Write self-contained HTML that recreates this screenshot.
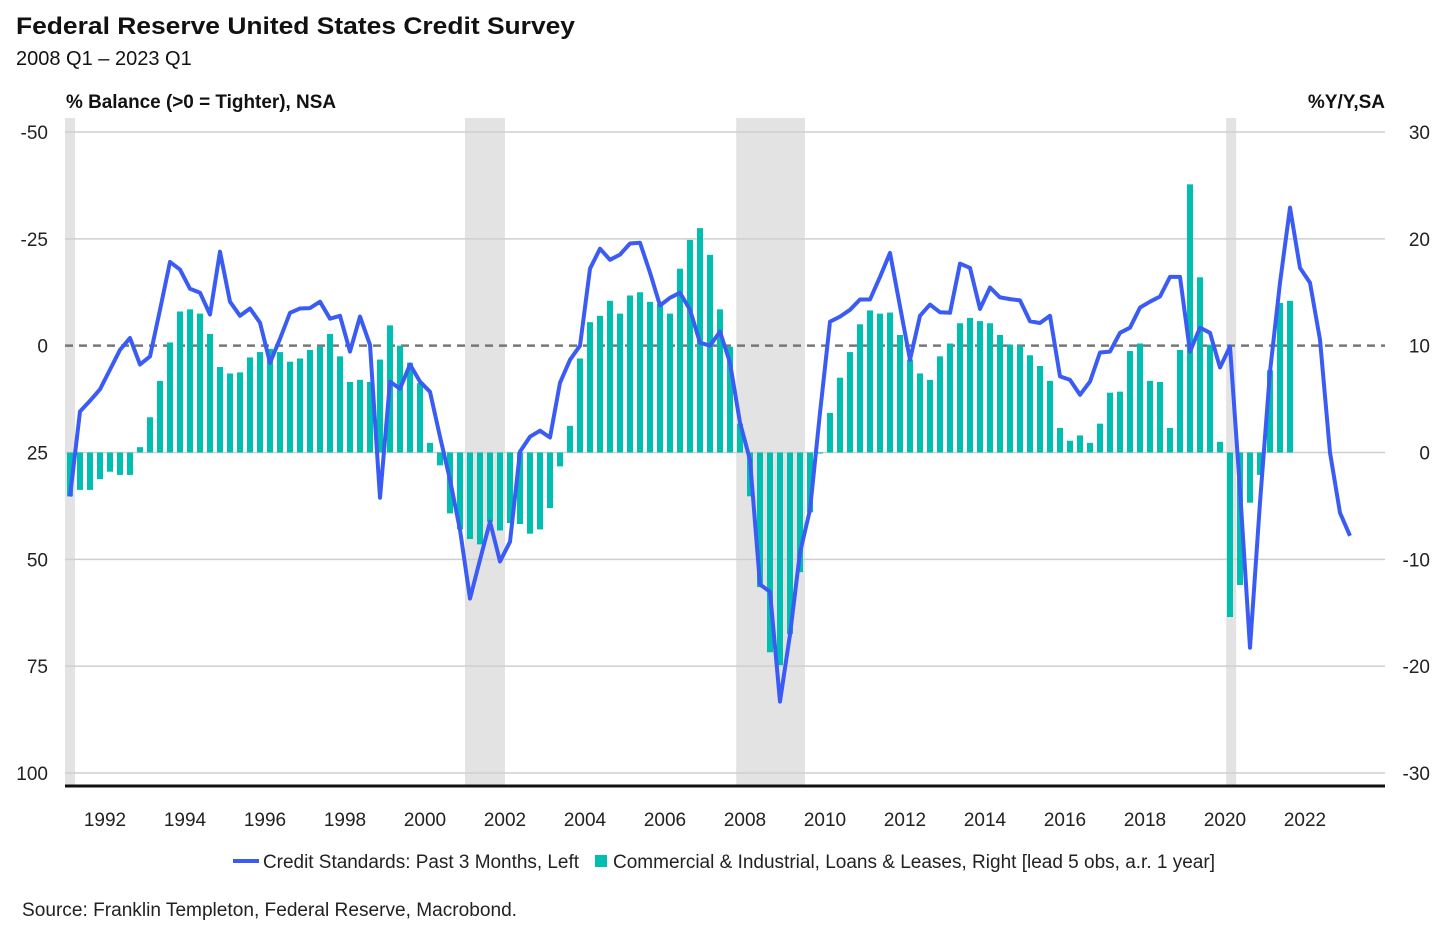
<!DOCTYPE html>
<html><head><meta charset="utf-8"><style>
body{margin:0;background:#fff;}
svg{display:block;font-family:"Liberation Sans",Arial,sans-serif;}
</style></head><body>
<svg id="chart" width="1449" height="929" viewBox="0 0 1449 929">
<text x="16" y="34" font-size="24" font-weight="bold" fill="#111" textLength="559" lengthAdjust="spacingAndGlyphs">Federal Reserve United States Credit Survey</text>
<text x="16" y="65" font-size="20" fill="#111">2008 Q1 – 2023 Q1</text>
<text x="66" y="108" font-size="19" font-weight="bold" fill="#111" textLength="270" lengthAdjust="spacingAndGlyphs">% Balance (&gt;0 = Tighter), NSA</text>
<text x="1385" y="108" font-size="19" font-weight="bold" fill="#111" text-anchor="end">%Y/Y,SA</text>
<g id="bands"></g><g id="grid"></g><g id="bars"></g><g id="line"></g><g id="axes"></g>
<g>
<line x1="233" y1="861" x2="259" y2="861" stroke="#3a5cf5" stroke-width="4"/>
<text x="263" y="868" font-size="19" fill="#222" textLength="316" lengthAdjust="spacingAndGlyphs">Credit Standards: Past 3 Months, Left</text>
<rect x="595" y="855" width="12" height="12" fill="#00bfb0"/>
<text x="613" y="868" font-size="19" fill="#222" textLength="602" lengthAdjust="spacingAndGlyphs">Commercial &amp; Industrial, Loans &amp; Leases, Right [lead 5 obs, a.r. 1 year]</text>
</g>
<text x="22" y="916" font-size="19" fill="#222" textLength="495" lengthAdjust="spacingAndGlyphs">Source: Franklin Templeton, Federal Reserve, Macrobond.</text>
</svg>
<script>
const startYear = 1991.125; // first quarterly observation (mid-quarter position)
const barValues = [-4.1,-3.5,-3.5,-2.5,-1.8,-2.1,-2.1,0.5,3.3,6.7,10.3,13.2,13.4,13.0,11.1,8.0,7.4,7.5,8.9,9.4,9.7,9.4,8.5,8.8,9.6,9.9,11.1,9.0,6.6,6.8,6.6,8.7,11.9,10.0,8.4,6.5,0.9,-1.2,
-5.7,-7.2,-8.1,-8.6,-6.5,-7.3,-6.6,-6.7,-7.6,-7.2,-5.2,-1.3,2.5,8.8,12.2,12.8,14.2,13.0,14.7,15.0,14.1,13.9,13.0,17.2,19.9,21.0,18.5,13.4,9.9,2.7,-4.1,-12.6,-18.7,-19.9,-17.0,-11.2,-5.6,-0.1,3.7,7.0,
9.4,12.0,13.3,13.0,13.1,11.0,8.7,7.4,6.8,9.0,10.2,12.1,12.6,12.3,12.1,11.0,10.1,10.0,9.1,8.1,6.7,2.3,1.1,1.6,0.9,2.7,5.6,5.7,9.5,10.2,6.7,6.6,2.3,9.6,25.1,16.4,10.1,1.0,-15.4,-12.4,-4.7,-2.1,7.7,14.0,14.2];
const lineValues = [35.3,15.4,12.9,10.2,5.6,1.0,-1.8,4.4,2.5,-8.4,-19.6,-17.8,-13.3,-12.4,-7.3,-22.0,-10.3,-7.0,-8.7,-5.4,4.0,-1.6,-7.7,-8.7,-8.8,-10.3,-6.3,-7.0,1.4,-6.8,-0.2,35.6,8.4,10.1,4.4,8.4,10.8,21.3,
31.4,43.1,59.2,50.1,41.2,50.5,45.9,24.8,21.3,19.9,21.5,8.7,3.3,0,-18.0,-22.7,-20.1,-21.3,-23.9,-24.1,-17.1,-9.4,-11.2,-12.4,-8.4,-0.7,0,-3.3,4.0,18.0,26.7,55.9,57.6,83.3,67.6,48.4,38.4,15.7,-5.6,-6.8,
-8.4,-10.8,-10.8,-16.1,-21.7,-9.2,3.3,-7.0,-9.6,-7.8,-7.7,-19.2,-18.2,-8.6,-13.6,-11.3,-10.9,-10.6,-5.7,-5.3,-7.0,7.2,8.0,11.5,8.4,1.6,1.4,-3.0,-4.2,-8.9,-10.3,-11.5,-16.1,-16.1,1.4,-4.2,-3.0,5.1,0.2,33.7,70.7,36.7,6.1,-14.7,-32.3,-18.2,-14.7,-1.4,25.0,39.1,44.5];
const leftTicks = [-50,-25,0,25,50,75,100];
const rightTicks = [30,20,10,0,-10,-20,-30];
const yearTicks = [1992,1994,1996,1998,2000,2002,2004,2006,2008,2010,2012,2014,2016,2018,2020,2022];
const recessionStarts = [1990.5,2001.0,2007.78,2020.03];
const recessionEnds = [1991.25,2002.0,2009.5,2020.28];

const X0=65,X1=1385,Y0=132,Y1=773;
const xs = y => 105 + (y-1992)*40;
const yl = v => Y0 + (v+50)/150*(Y1-Y0);
const yr = v => Y0 + (30-v)/60*(Y1-Y0);
const NS='http://www.w3.org/2000/svg';
function mk(tag, parent, attrs){const e=document.createElementNS(NS,tag);for(const k in attrs)e.setAttribute(k,attrs[k]);document.getElementById(parent).appendChild(e);return e;}

recessionStarts.forEach((s,i)=>{
  const a=Math.max(X0,xs(s)), b=xs(recessionEnds[i]);
  const r=mk('rect','bands',{x:a,y:118,width:b-a,height:786-118,fill:'#e3e3e3'});
  
  
});
leftTicks.forEach((t,i)=>{
  const y=yl(t);
  const g=mk('line','grid',{x1:X0,x2:X1,y1:y,y2:y,stroke:t===0?'#777':'#cfcfcf','stroke-width':t===0?2.5:1.5,'stroke-dasharray':t===0?'8,6':'none'});
  
  
  const lt=mk('text','axes',{x:48,y:y+7,'font-size':19,fill:'#222','text-anchor':'end'});
  lt.textContent=t;
  
  
});
rightTicks.forEach(t=>{
  const rt=mk('text','axes',{x:1430,y:yr(t)+7,'font-size':19,fill:'#222','text-anchor':'end'});
  rt.textContent=t;
  
  
});
const ax=mk('line','axes',{x1:X0,x2:X1,y1:786,y2:786,stroke:'#111','stroke-width':3});


yearTicks.forEach(yy=>{
  const t=mk('text','axes',{x:xs(yy),y:826,'font-size':19,fill:'#222','text-anchor':'middle'});
  t.textContent=yy;
  
  
});
barValues.forEach((v,i)=>{
  const x=xs(startYear+0.25*i), y0=yr(0), y=yr(v);
  const b=mk('rect','bars',{x:x-3,y:Math.min(y,y0),width:6,height:Math.max(0.8,Math.abs(y-y0)),fill:'#00bfb0'});
  
  
});
const pts=lineValues.map((v,i)=>xs(startYear+0.25*i).toFixed(1)+','+yl(v).toFixed(1)).join(' ');
const pl=mk('polyline','line',{points:pts,fill:'none',stroke:'#3a5cf5','stroke-width':4,'stroke-linejoin':'round'});


</script>
</body></html>
